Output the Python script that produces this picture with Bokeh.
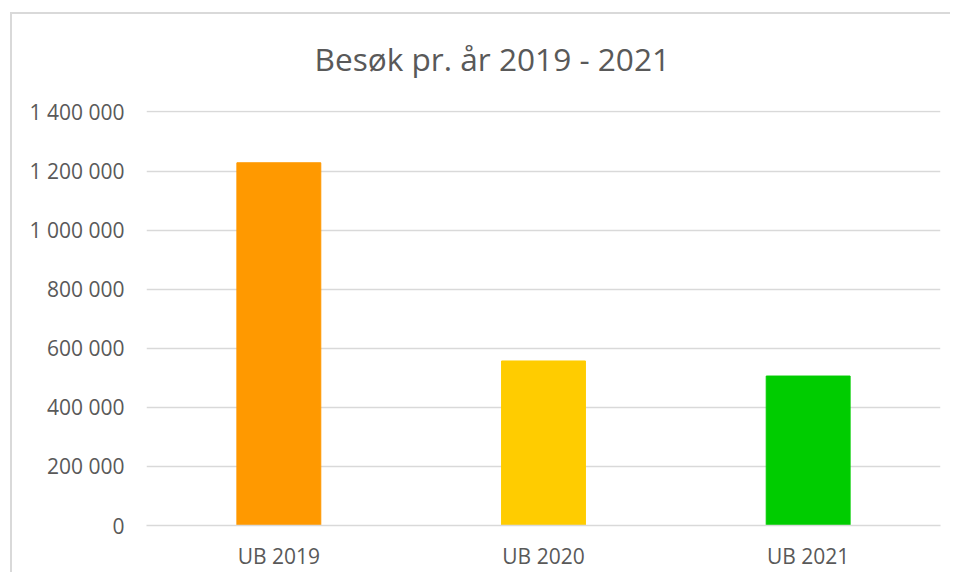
from bokeh.plotting import figure
from bokeh.models import FactorRange, Range1d, CustomJSTickFormatter, ColumnDataSource, FixedTicker, InlineStyleSheet
from bokeh.embed import file_html
from bokeh.resources import INLINE

categories = ["UB 2019", "UB 2020", "UB 2021"]
visits = [1228000, 557000, 506000]
colors = ["#FF9900", "#FFCC00", "#00CC00"]
y_ticks = [0, 200000, 400000, 600000, 800000, 1000000, 1200000, 1400000]
title_text = "Besøk pr. år 2019 - 2021"

FONT = "Open Sans"
TXT = "#595959"

src = ColumnDataSource(dict(cat=categories, val=visits, col=colors))

p = figure(width=950, height=572, output_backend="svg", toolbar_location=None,
           x_range=FactorRange(*categories, range_padding=0),
           y_range=Range1d(0, 1405000),
           min_border_left=146, min_border_right=10, min_border_top=110, min_border_bottom=46)

p.vbar(x="cat", top="val", width=0.317, color="col", source=src)

p.border_fill_color = None
p.background_fill_color = None
p.stylesheets = [InlineStyleSheet(css=(
    ":host { background: "
    "linear-gradient(to right, transparent 10px, #d9d9d9 10px, #d9d9d9 12px, transparent 12px) 0px 12px / 100% 100% no-repeat, "
    "linear-gradient(to bottom, transparent 12px, #d9d9d9 12px, #d9d9d9 14px, transparent 14px) 10px 0px / 100% 100% no-repeat, "
    "white; }"
))]

p.title.text = title_text
p.title.text_font = FONT
p.title.text_font_size = "31.6px"
p.title.text_font_style = "normal"
p.title.text_color = TXT
p.title.align = "left"
p.title.offset = 168
p.title.standoff = 62

p.outline_line_color = None
p.xgrid.grid_line_color = None
p.ygrid.grid_line_color = "#d9d9d9"
p.ygrid.grid_line_width = 1.3

p.yaxis.ticker = FixedTicker(ticks=y_ticks)
p.yaxis.formatter = CustomJSTickFormatter(code="return Math.round(tick).toString().replace(/\\B(?=(\\d{3})+(?!\\d))/g, ' ');")
p.yaxis.axis_line_color = None
p.yaxis.major_tick_line_color = None
p.yaxis.minor_tick_line_color = None
p.yaxis.major_tick_out = 0
p.yaxis.major_label_standoff = 22
p.yaxis.major_label_text_font = FONT
p.yaxis.major_label_text_font_size = "21px"
p.yaxis.major_label_text_color = TXT

p.xaxis.axis_line_color = "#d9d9d9"
p.xaxis.axis_line_width = 1.3
p.xaxis.major_tick_line_color = None
p.xaxis.minor_tick_line_color = None
p.xaxis.major_tick_out = 0
p.xaxis.major_tick_in = 0
p.xaxis.major_label_standoff = 16
p.xaxis.major_label_text_font = FONT
p.xaxis.major_label_text_font_size = "21px"
p.xaxis.major_label_text_color = TXT

open("out.html", "w").write(file_html(p, INLINE))
